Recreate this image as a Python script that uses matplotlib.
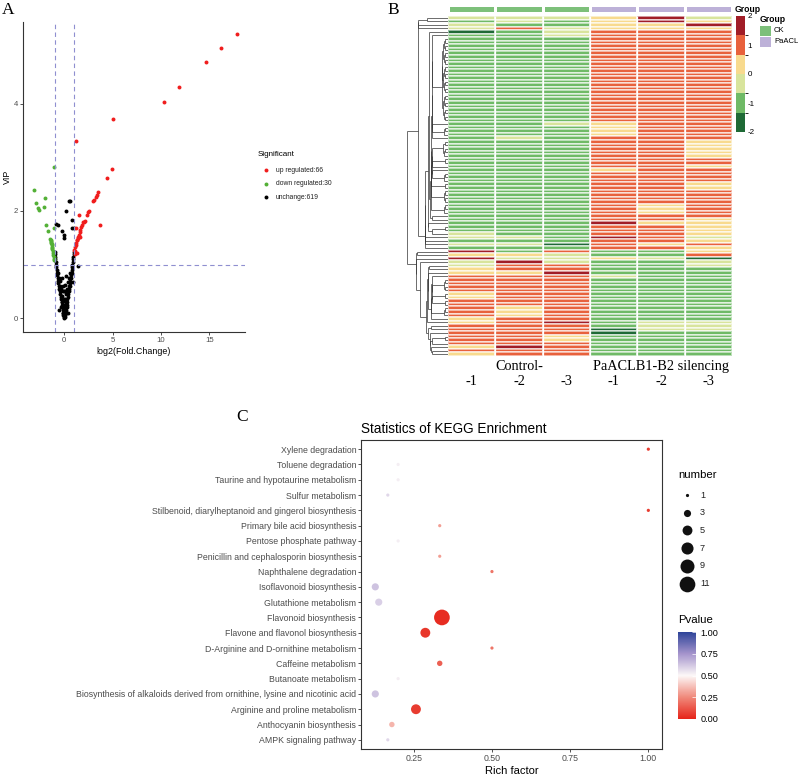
import numpy as np
import matplotlib
matplotlib.use("Agg")
import matplotlib.pyplot as plt
from matplotlib.colors import ListedColormap, BoundaryNorm, LinearSegmentedColormap, Normalize
from matplotlib.cm import ScalarMappable
from matplotlib.collections import LineCollection
from matplotlib.patches import Rectangle

plt.rcParams["font.family"] = ["Liberation Sans", "DejaVu Sans"]
plt.rcParams["axes.unicode_minus"] = False

# ---------------- data: panel A (volcano) ----------------
up_x = [17.83, 16.18, 14.63, 11.9, 10.35, 5.08, 1.2, 4.97, 4.42, 3.52, 3.28, 3.0, 2.49, 2.35,
        1.56, 3.7, 1.2, 2.0, 1.93, 1.82, 1.72, 1.65, 1.58, 1.51, 1.41, 1.31, 1.24, 1.17, 1.1,
        1.03, 1.6, 1.45, 1.35, 1.28, 2.1, 3.1, 3.4, 2.6, 1.15, 1.07]
up_y = [5.3, 5.04, 4.79, 4.32, 4.04, 3.71, 3.31, 2.79, 2.62, 2.36, 2.27, 2.18, 1.98, 1.93,
        1.93, 1.73, 1.69, 1.8, 1.79, 1.74, 1.7, 1.65, 1.61, 1.56, 1.51, 1.46, 1.41, 1.37, 1.33,
        1.28, 1.52, 1.5, 1.45, 1.22, 1.82, 2.2, 2.3, 2.0, 1.25, 1.2]
down_x = [-3.17, -2.93, -2.69, -2.6, -2.01, -2.07, -1.9, -1.65, -1.03, -1.03, -1.45, -1.42,
          -1.4, -1.37, -1.35, -1.32, -1.3, -1.27, -1.25, -1.23, -1.2, -1.17, -1.14, -1.1,
          -1.07, -1.05]
down_y = [2.4, 2.15, 2.06, 2.02, 2.24, 2.08, 1.73, 1.63, 2.83, 1.68, 1.48, 1.46, 1.44, 1.42,
          1.4, 1.38, 1.36, 1.33, 1.31, 1.29, 1.25, 1.21, 1.18, 1.14, 1.1, 1.08]
flat_x = [-0.04, -0.08, -0.12, -0.15, -0.19, -0.24, -0.28, -0.33, -0.37, -0.42, -0.47, -0.52,
          -0.56, -0.61, -0.65, -0.69, -0.72, -0.76, -0.79, -0.82, -0.85, -0.88, -0.91, -0.94,
          -0.97, -0.99,
          0.04, 0.08, 0.11, 0.15, 0.2, 0.24, 0.29, 0.33, 0.38, 0.42, 0.46, 0.51, 0.56, 0.6,
          0.64, 0.68, 0.72, 0.75, 0.79, 0.82, 0.85, 0.88, 0.91, 0.94, 0.97, 0.99,
          0.0, 0.02, -0.05, 0.06, -0.1, 0.12, -0.2, 0.2, -0.3, 0.28, 0.0, -0.12, 0.1, -0.4,
          0.38, -0.25, 0.22, 0.0, -0.06, 0.06, -0.15, 0.15, -0.3, 0.3, 0.0, -0.2, 0.2,
          -0.45, 0.45, -0.35, 0.35, -0.1, 0.1, 0.0, -0.5, 0.5, -0.6, 0.6,
          -0.86, -0.7, -0.25, -0.01, -0.06, 0.22, 0.46, 0.6, 0.84, 0.84, 0.96, 1.45, 0.93,
          -0.52, 0.35]
flat_y = [0.02, 0.06, 0.1, 0.15, 0.2, 0.25, 0.3, 0.35, 0.4, 0.45, 0.5, 0.55, 0.6, 0.65, 0.7,
          0.75, 0.8, 0.85, 0.9, 0.95, 1.0, 1.05, 1.1, 1.15, 1.2, 1.24,
          0.02, 0.06, 0.1, 0.15, 0.2, 0.25, 0.3, 0.35, 0.4, 0.45, 0.5, 0.55, 0.6, 0.65, 0.7,
          0.75, 0.8, 0.85, 0.9, 0.95, 1.0, 1.05, 1.1, 1.15, 1.2, 1.24,
          0.05, 0.12, 0.2, 0.25, 0.32, 0.35, 0.42, 0.45, 0.55, 0.55, 0.35, 0.6, 0.62, 0.7,
          0.68, 0.75, 0.78, 0.0, 0.1, 0.14, 0.1, 0.1, 0.2, 0.2, 0.25, 0.3, 0.3,
          0.6, 0.6, 0.5, 0.5, 0.5, 0.5, 0.5, 0.75, 0.75, 0.85, 0.85,
          1.76, 1.73, 1.63, 1.56, 1.5, 2.0, 2.18, 2.19, 1.84, 1.68, 1.69, 0.97, 0.67, 0.16,
          0.1]
sig_labels = ["up regulated:66", "down regulated:30", "unchange:619"]

# ---------------- data: panel B (heatmap) ----------------
# X=dark red, R=red, y=yellow, l=pale green, G=green, D=dark green
level_values = {"X": 1.7, "R": 1.0, "y": 0.35, "l": -0.35, "G": -1.0, "D": -1.7}
heat_rows = [
    "lllyXl", "GlGyXy", "lGGyyX", "lRlyyy", "DGlRRR", "GGlRRR",
] + ["GGGRRR"] * 24 + [
    "GGlyRR", "GGGyRR", "GGGyRR", "GGGyRR", "GlGRRR", "GGGRRy", "GGGRRy", "GGGRRy",
    "GGGRRy", "GGGRRy", "GGGRRR", "GGGRRR", "GGGRRy", "GGGyRR", "GGGRRR", "GGGRRR",
    "GGGRRR", "GGGRRy", "GGGRRy", "GGGRRR", "GGGRRR", "GGGRRR", "GGGRRR", "GGGRyR",
    "GGGRyR", "GGGRyR", "GGGRRR", "GGGRRy", "GGGXyy", "GGGRRy", "GGGRRy", "lGGRRy",
    "llGXRl", "GGGRRy", "llDRyR", "GGGRRy", "XGRGGy", "yylGGR", "XllylD", "lXlGGl",
    "lRRGGl", "yRRGGG", "yyXGGG", "RRRlGG", "RRRGGG", "RRRGGG", "RRRGGG", "RRRGGG",
    "yRRGGG", "yRRGGG", "RRRGGG", "RRRGGG", "RyRGGG", "RyRGGG", "RyRGGG", "yRRGGG",
    "yRXGll", "RRRGll", "RRRDll", "RRRDGG", "RRyGGG", "RRyGGG", "RRRGGG", "yXRGGG",
    "RRRGGG", "yRRGGG",
]
groups = ["CK", "CK", "CK", "PaACL", "PaACL", "PaACL"]
group_titles = ["Control-", "PaACLB1-B2 silencing"]
sample_labels = ["-1", "-2", "-3", "-1", "-2", "-3"]

# ---------------- data: panel C (KEGG dot plot) ----------------
pathways = [
    "Xylene degradation", "Toluene degradation", "Taurine and hypotaurine metabolism",
    "Sulfur metabolism", "Stilbenoid, diarylheptanoid and gingerol biosynthesis",
    "Primary bile acid biosynthesis", "Pentose phosphate pathway",
    "Penicillin and cephalosporin biosynthesis", "Naphthalene degradation",
    "Isoflavonoid biosynthesis", "Glutathione metabolism", "Flavonoid biosynthesis",
    "Flavone and flavonol biosynthesis", "D-Arginine and D-ornithine metabolism",
    "Caffeine metabolism", "Butanoate metabolism",
    "Biosynthesis of alkaloids derived from ornithine, lysine and nicotinic acid",
    "Arginine and proline metabolism", "Anthocyanin biosynthesis", "AMPK signaling pathway",
]
rich_factor = [1.0, 0.2, 0.2, 0.167, 1.0, 0.333, 0.2, 0.333, 0.5, 0.127, 0.138, 0.34,
               0.287, 0.5, 0.333, 0.2, 0.127, 0.257, 0.18, 0.167]
gene_number = [1, 1, 1, 1, 1, 1, 1, 1, 1, 3, 3, 11, 5, 1, 2, 1, 3, 5, 2, 1]
pvalue = [0.06, 0.52, 0.52, 0.58, 0.06, 0.3, 0.52, 0.3, 0.2, 0.63, 0.6, 0.02, 0.05, 0.2,
          0.15, 0.52, 0.63, 0.06, 0.35, 0.58]
number_breaks = [1, 3, 5, 7, 9, 11]
pvalue_breaks = [0.0, 0.25, 0.5, 0.75, 1.0]

# ---------------- layout helpers ----------------
W, H = 799, 777
fig = plt.figure(figsize=(W / 100, H / 100), dpi=100)


def rect(x0, y0, x1, y1):
    return [x0 / W, 1 - y1 / H, (x1 - x0) / W, (y1 - y0) / H]


ov = fig.add_axes([0, 0, 1, 1], zorder=5)
ov.set_xlim(0, W)
ov.set_ylim(H, 0)
ov.axis("off")

grey = "#4D4D4D"
serif = ["Liberation Serif", "DejaVu Serif"]

# panel letters
for lab, x, y in [("A", 8, 10), ("B", 393, 10), ("C", 242, 417)]:
    ov.text(x, y, lab, fontsize=12.5, family=serif, ha="center", va="center")

# ---------------- panel A ----------------
axA = fig.add_axes(rect(23, 22, 245, 332))
pt_s = 8
axA.scatter(flat_x, flat_y, s=pt_s, c="black", lw=0)
axA.scatter(down_x, down_y, s=pt_s, c="#53B036", lw=0)
axA.scatter(up_x, up_y, s=pt_s, c="#F01D1D", lw=0)
for v in (-1, 1):
    axA.axvline(v, color="#8F8FD0", lw=0.8, ls=(0, (4, 3)))
axA.axhline(1, color="#8F8FD0", lw=0.8, ls=(0, (4, 3)))
axA.set_xlim(-4.27, 18.7)
axA.set_ylim(-0.26, 5.53)
axA.set_xticks([0, 5, 10, 15])
axA.set_yticks([0, 2, 4])
for s in ("top", "right"):
    axA.spines[s].set_visible(False)
for s in ("left", "bottom"):
    axA.spines[s].set_color("#333333")
    axA.spines[s].set_linewidth(0.8)
axA.tick_params(labelsize=5.6, colors="#333333", labelcolor=grey, length=2, width=0.6, pad=1.5)
axA.set_xlabel("log2(Fold.Change)", fontsize=6.4, labelpad=2)
axA.set_ylabel("VIP", fontsize=6.4, labelpad=1)

ov.text(258, 155, "Significant", fontsize=5.8, va="center")
for i, (lab, col) in enumerate(zip(sig_labels, ["#F01D1D", "#53B036", "black"])):
    yy = 170 + 13.6 * i
    ov.scatter([265.5], [yy], s=pt_s, c=col, lw=0)
    ov.text(276, yy, lab, fontsize=4.9, va="center", color="#222222")

# ---------------- panel B ----------------
hcolors = ["#1F6A36", "#6FBA66", "#D8E49C", "#F8DA8E", "#E8613C", "#A11D27"]
hcmap = ListedColormap(hcolors)
hnorm = BoundaryNorm([-2, -4 / 3, -2 / 3, 0, 2 / 3, 4 / 3, 2], 6)
mat = np.array([[level_values[c] for c in row] for row in heat_rows])
nr, nc = mat.shape

axH = fig.add_axes(rect(448, 16, 732, 356))
axH.pcolormesh(mat, cmap=hcmap, norm=hnorm, edgecolors=(1, 1, 1, 0.55), linewidth=0.25)
axH.vlines(np.arange(1, nc), 0, nr, color="white", lw=0.9)
axH.set_xlim(0, nc)
axH.set_ylim(nr, 0)
axH.axis("off")
for i, lab in enumerate(sample_labels):
    axH.annotate(lab, xy=(i + 0.5, 0), xycoords=("data", "axes fraction"),
                 xytext=(0, -25 * 0.72), textcoords="offset points", ha="center",
                 va="center", fontsize=10.3, family=serif)
for k, lab in enumerate(group_titles):
    axH.annotate(lab, xy=(3 * k + 1.5, 0), xycoords=("data", "axes fraction"),
                 xytext=(0, -10.5 * 0.72), textcoords="offset points", ha="center",
                 va="center", fontsize=10.3, family=serif)

# annotation bar
gcol = {"CK": "#7DC07A", "PaACL": "#BDB1D8"}
axG = fig.add_axes(rect(448, 5, 732, 13))
gcmap = ListedColormap([gcol["CK"], gcol["PaACL"]])
axG.pcolormesh(np.array([[0 if g == "CK" else 1 for g in groups]]), cmap=gcmap,
               vmin=0, vmax=1, edgecolors="white", linewidth=0.8)
axG.set_xlim(0, nc)
axG.axis("off")

# row dendrogram (adjacent, order-preserving merging)
axD = fig.add_axes(rect(405, 16, 448, 356))
clusters = [(np.array([i]), i + 0.5, 0.0) for i in range(nr)]
segs = []
while len(clusters) > 1:
    best = None
    for k in range(len(clusters) - 1):
        a = clusters[k][0]
        b = clusters[k + 1][0]
        d = np.linalg.norm(mat[a].mean(0) - mat[b].mean(0))
        key = (round(d, 6), len(a) + len(b), k)
        if best is None or key < best[0]:
            best = (key, k, d)
    _, k, d = best
    a, pa, ha = clusters[k]
    b, pb, hb = clusters[k + 1]
    h = max(d, ha, hb) + 0.02
    segs += [[(ha, pa), (h, pa)], [(h, pa), (h, pb)], [(hb, pb), (h, pb)]]
    clusters[k:k + 2] = [(np.concatenate([a, b]), (pa + pb) / 2, h)]
segs = [[(np.sqrt(x), y) for x, y in s] for s in segs]
axD.add_collection(LineCollection(segs, colors="#333333", linewidths=0.5))
axD.set_xlim(clusters[0][2] ** 0.5 * 1.05, 0)
axD.set_ylim(nr, 0)
axD.axis("off")

# heatmap colour key
caxH = fig.add_axes(rect(736, 16, 745, 132))
cbH = fig.colorbar(ScalarMappable(norm=hnorm, cmap=hcmap), cax=caxH, ticks=[-2, -1, 0, 1, 2])
cbH.outline.set_visible(False)
caxH.tick_params(length=0, labelsize=5.8, pad=2)
ov.text(735, 9, "Group", fontsize=6.2, fontweight="bold", va="center")
ov.text(760, 19, "Group", fontsize=6.2, fontweight="bold", va="center")
for i, g in enumerate(["CK", "PaACL"]):
    yy = 30.5 + 11 * i
    ov.add_patch(Rectangle((759.5, yy - 5), 11, 10, color=gcol[g], lw=0))
    ov.text(774, yy, g, fontsize=5.5, va="center")

# ---------------- panel C ----------------
pcmap = LinearSegmentedColormap.from_list(
    "pv", [(0, "#E62419"), (0.25, "#F0897B"), (0.5, "#FCF7F7"), (0.75, "#A594CC"),
           (1.0, "#2E4499")])


def dot_area(n):
    size = 1 + 5 * (np.sqrt(n) - 1) / (np.sqrt(11) - 1)
    d_px = 2.5 * size + 0.7
    return (d_px * 0.72) ** 2


axC = fig.add_axes(rect(361, 440, 662, 749))
ypos = np.arange(len(pathways))[::-1]
axC.scatter(rich_factor, ypos, s=dot_area(np.array(gene_number)), c=pvalue, cmap=pcmap,
            vmin=0, vmax=1, lw=0, zorder=3)
axC.set_xlim(0.0813, 1.0437)
axC.set_ylim(-0.6, len(pathways) - 0.4)
axC.set_yticks(ypos)
axC.set_yticklabels(pathways)
axC.set_xticks([0.25, 0.5, 0.75, 1.0])
axC.set_xticklabels(["0.25", "0.50", "0.75", "1.00"])
for s in axC.spines.values():
    s.set_color("#333333")
    s.set_linewidth(0.8)
axC.tick_params(labelsize=6.35, colors="#333333", labelcolor=grey, length=2, width=0.6,
                pad=1.5)
axC.set_xlabel("Rich factor", fontsize=8, labelpad=2)
axC.set_title("Statistics of KEGG Enrichment", loc="left", fontsize=9.8, pad=5)

ov.text(678, 475, "number", fontsize=8.2, va="center")
for i, n in enumerate(number_breaks):
    yy = 495 + 17.7 * i
    ov.scatter([686.7], [yy], s=dot_area(n), c="#111111", lw=0)
    ov.text(700, yy, str(n), fontsize=6.6, va="center", color="#222222")

ov.text(678, 620, "Pvalue", fontsize=8.2, va="center")
caxC = fig.add_axes(rect(678, 632, 696, 719))
cbC = fig.colorbar(ScalarMappable(norm=Normalize(0, 1), cmap=pcmap), cax=caxC,
                   ticks=pvalue_breaks)
cbC.outline.set_visible(False)
cbC.set_ticklabels(["%.2f" % v for v in pvalue_breaks])
caxC.tick_params(length=3, width=0.5, color="white", direction="in", labelsize=6.6, pad=3)

fig.savefig("out.png", dpi=100)
